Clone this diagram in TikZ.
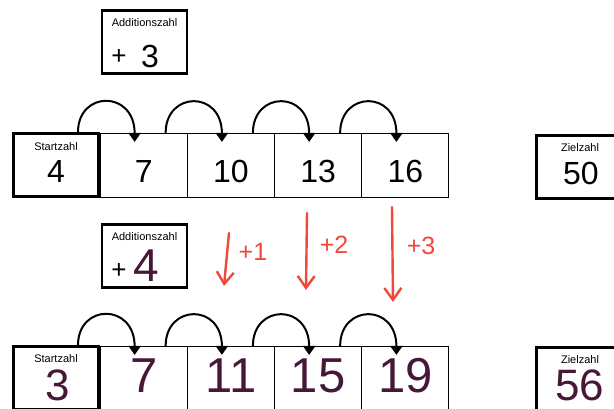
\documentclass[tikz,border=0pt]{standalone}
\usepackage{fontspec}
\setmainfont{Liberation Sans}
\usetikzlibrary{arrows.meta,positioning}
\definecolor{rotstift}{RGB}{240,72,58}
\definecolor{lila}{RGB}{70,24,56}
\tikzset{
  zahlbox/.style={draw,line width=2.6pt,minimum width=85pt,minimum height=63pt,inner sep=0pt},
  zelle/.style={draw,line width=1.1pt,minimum width=87pt,minimum height=64pt,inner sep=0pt},
  sprung/.style={line width=2pt,-{Triangle[width=12pt,length=9pt]}},
  rotpfeil/.style={rotstift,line width=2.4pt,line cap=round,-{Straight Barb[width=17pt,length=12pt,line width=2.4pt]}},
  klein/.style={font=\fontsize{11}{11}\selectfont,inner sep=1pt},
  ziffer/.style={font=\fontsize{32}{32}\selectfont},
  grossziffer/.style={lila,inner sep=0pt,font=\fontsize{49}{49}\selectfont},
  randziffer/.style={lila,inner sep=0pt,font=\fontsize{44}{44}\selectfont},
  rotzahl/.style={rotstift,font=\fontsize{25}{25}\selectfont}
}
\begin{document}
\begin{tikzpicture}[x=1pt,y=-1pt]
\useasboundingbox (0,0) rectangle (614,409);
\clip (0,0) rectangle (614,409);
% obere Reihe
\node[zahlbox] (addA) at (144.5,42){};
\node[klein] (addAtext) at (144.5,23){Additionszahl};
\node[font=\fontsize{26}{26}\selectfont] (addAplus) at (119,57){+};
\node[ziffer] (addAzahl) at (150,56){3};
\node[zahlbox] (startA) at (56,165){};
\node[klein] (startAtext) at (56,147){Startzahl};
\node[ziffer] (startAzahl) at (56,171){4};
\foreach \i/\v in {1/7,2/10,3/13,4/16}{
  \node[zelle] (zA\i) at (100+87.25*\i-43.6,165.5){};
  \node[ziffer] (wA\i) at ([yshift=-6pt]zA\i.center){\v};
}
\foreach \a/\b in {startA/zA1,zA1/zA2,zA2/zA3,zA3/zA4}
  \draw[sprung] ([xshift=22pt]\a.north) .. controls +(0,-42) and +(0,-52) .. ([xshift=-9pt,yshift=-9pt]\b.north);
\node[zahlbox] (zielA) at (579,167){};
\node[klein] (zielAtext) at (580,147.5){Zielzahl};
\node[ziffer] (zielAzahl) at (581,173){50};
% rote Pfeile
\foreach \i/\xo/\yo/\xu/\yu/\t/\tx/\ty in {1/229/233/224/286/+1/253/252,2/307/213/306/290/+2/334/245,3/392/207/393/302/+3/421/246}{
  \coordinate (p\i o) at (\xo,\yo);
  \coordinate (p\i u) at (\xu,\yu);
  \draw[rotpfeil] (p\i o) -- (p\i u);
  \node[rotzahl] (r\i) at (\tx,\ty){\t};
}
% untere Reihe
\node[zahlbox] (addB) at (144.5,256){};
\node[klein] (addBtext) at (144.5,237){Additionszahl};
\node[font=\fontsize{26}{26}\selectfont] (addBplus) at (119,271){+};
\node[lila,font=\fontsize{46}{46}\selectfont] (addBzahl) at (146,266){4};
\node[zahlbox] (startB) at (56,378){};
\node[klein] (startBtext) at (56,359){Startzahl};
\node[randziffer] (startBzahl) at (58,385){3};
\foreach \i/\v in {1/7,2/11,3/15,4/19}{
  \node[grossziffer] (wB\i) at (100+87.25*\i-43.6,375.5){\v};
  \node[zelle] (zB\i) at (100+87.25*\i-43.6,378.5){};
}
\foreach \a/\b in {startB/zB1,zB1/zB2,zB2/zB3,zB3/zB4}
  \draw[sprung] ([xshift=22pt]\a.north) .. controls +(0,-42) and +(0,-52) .. ([xshift=-9pt,yshift=-9pt]\b.north);
\node[zahlbox] (zielB) at (579,379){};
\node[klein] (zielBtext) at (580,360){Zielzahl};
\node[randziffer] (zielBzahl) at (580,385){56};
\end{tikzpicture}
\end{document}
